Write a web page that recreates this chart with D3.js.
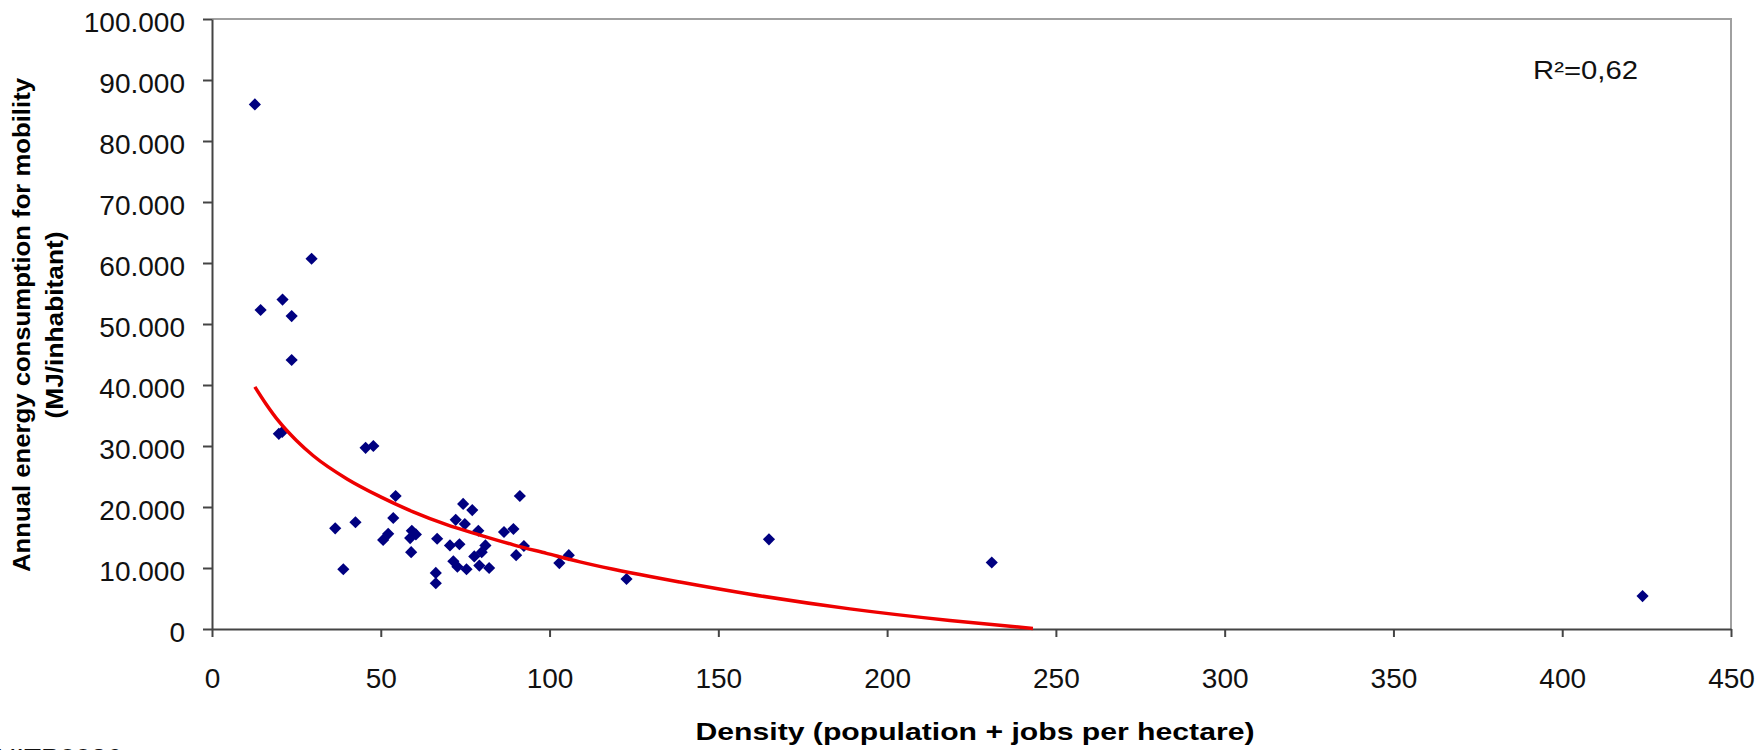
<!DOCTYPE html>
<html>
<head>
<meta charset="utf-8">
<script src="https://cdn.jsdelivr.net/npm/d3@7"></script>
<style>
  html, body { margin: 0; padding: 0; background: #fff; }
  svg { display: block; font-family: "Liberation Sans", Arial, sans-serif; }
</style>
</head>
<body>
<svg id="chart" width="1758" height="750"></svg>
<script>
// ---- data ----
const densityX = [12.7, 14.4, 20.9, 23.6, 23.6, 29.5, 19.8, 20.8, 45.5, 47.8,
  36.5, 38.9, 42.5, 50.7, 52.2, 53.7, 54.4, 58.7, 59.0, 59.2,
  60.4, 66.3, 66.3, 66.7, 70.5, 71.5, 72.2, 72.7, 73.3, 74.4,
  74.9, 75.4, 77.1, 77.7, 78.9, 79.2, 79.9, 81.0, 82.1, 86.5,
  89.3, 90.1, 91.2, 92.4, 102.9, 105.7, 122.8, 165.0, 231.0, 423.8];
const energyY = [86000, 52300, 54000, 51300, 44100, 60700, 32000, 32300, 29700, 30000,
  16500, 9800, 17500, 14600, 15600, 18200, 21800, 14900, 12600, 16100,
  15500, 9200, 7500, 14800, 13700, 11100, 17900, 10200, 13900, 20500,
  17200, 9800, 19500, 11900, 16100, 10400, 12600, 13700, 10000, 15900,
  16400, 12100, 21800, 13600, 10800, 12100, 8200, 14700, 10900, 5400];
// logarithmic trend line
const trendX = [12.7, 16, 20, 25, 30, 40, 49.8, 59.6, 69.5, 79.4, 89.3, 99.1, 109.0, 118.9, 129.8, 138.6, 159.4, 189.0, 218.6, 243.2];
const trendY = [39700, 36900, 33900, 30900, 28400, 24600, 21700, 19200, 17100, 15400, 13800, 12400, 11000, 9800, 8600, 7700, 5700, 3300, 1400, 100];
const xTicks = [0, 50, 100, 150, 200, 250, 300, 350, 400, 450];
const yTicks = [0, 10000, 20000, 30000, 40000, 50000, 60000, 70000, 80000, 90000, 100000];
const xTitle = "Density (population + jobs per hectare)";
const yTitle1 = "Annual energy consumption for mobility";
const yTitle2 = "(MJ/inhabitant)";
const r2Label = "R\u00B2=0,62";
const footLabel = "UITP0036";

// ---- layout ----
const svg = d3.select("#chart");
const L = 212, R = 1731, T = 19, B = 629;
const x = d3.scaleLinear().domain([0, 450]).range([L, R]);
const y = d3.scaleLinear().domain([0, 100000]).range([B, T]);
const loc = d3.formatLocale({decimal: ",", thousands: ".", grouping: [3], currency: ["", ""]});
const fmt = loc.format(",d");
const axisColor = "#444";

// plot border (top/right)
svg.append("path")
  .attr("d", `M${L},${T}H${R}V${B}`)
  .attr("fill", "none").attr("stroke", "#a0a0a0").attr("stroke-width", 2);

// y axis
const gy = svg.append("g").attr("transform", `translate(${L},0)`)
  .call(d3.axisLeft(y).tickValues(yTicks).tickFormat(fmt).tickSize(9).tickSizeOuter(0).tickPadding(18));
gy.selectAll("path, line").attr("stroke", axisColor).attr("stroke-width", 2);
gy.selectAll("text").attr("font-size", 28).attr("fill", "#111")
  .attr("font-family", "'Liberation Sans', Arial, sans-serif").attr("dy", "0.45em");

// x axis
const gx = svg.append("g").attr("transform", `translate(0,${B})`)
  .call(d3.axisBottom(x).tickValues(xTicks).tickFormat(d3.format("d")).tickSize(8).tickSizeOuter(0).tickPadding(31));
gx.selectAll("path, line").attr("stroke", axisColor).attr("stroke-width", 2);
gx.selectAll("text").attr("font-size", 28).attr("fill", "#111")
  .attr("font-family", "'Liberation Sans', Arial, sans-serif");

// points
const pts = densityX.map((d, i) => ({x: d, y: energyY[i]}));
const sym = d3.symbol().type(d3.symbolSquare).size(74);
svg.append("g").selectAll("path").data(pts).join("path")
  .attr("d", sym)
  .attr("transform", d => `translate(${x(d.x)},${y(d.y)}) rotate(45)`)
  .attr("fill", "#000080");

// trend line
const trend = trendX.map((d, i) => ({x: d, y: trendY[i]}));
svg.append("path").datum(trend)
  .attr("d", d3.line().x(d => x(d.x)).y(d => y(d.y)).curve(d3.curveMonotoneX))
  .attr("fill", "none").attr("stroke", "#ee0000").attr("stroke-width", 3.5);

// R² label
svg.append("text").attr("x", 1533).attr("y", 79)
  .attr("font-size", 26).attr("fill", "#111")
  .attr("textLength", 105).attr("lengthAdjust", "spacingAndGlyphs")
  .text(r2Label);

// axis titles
svg.append("text").attr("x", 975).attr("y", 740)
  .attr("text-anchor", "middle").attr("font-size", 24).attr("font-weight", "bold").attr("fill", "#000")
  .attr("textLength", 559).attr("lengthAdjust", "spacingAndGlyphs")
  .text(xTitle);

svg.append("text").attr("transform", "translate(30,325) rotate(-90)")
  .attr("text-anchor", "middle").attr("font-size", 23).attr("font-weight", "bold").attr("fill", "#000")
  .attr("textLength", 494).attr("lengthAdjust", "spacingAndGlyphs")
  .text(yTitle1);
svg.append("text").attr("transform", "translate(63,325) rotate(-90)")
  .attr("text-anchor", "middle").attr("font-size", 23).attr("font-weight", "bold").attr("fill", "#000")
  .attr("textLength", 187).attr("lengthAdjust", "spacingAndGlyphs")
  .text(yTitle2);

// cut-off footer text at the bottom-left edge
svg.append("text").attr("x", -4).attr("y", 768)
  .attr("font-size", 28).attr("fill", "#111")
  .text(footLabel);
</script>
</body>
</html>
